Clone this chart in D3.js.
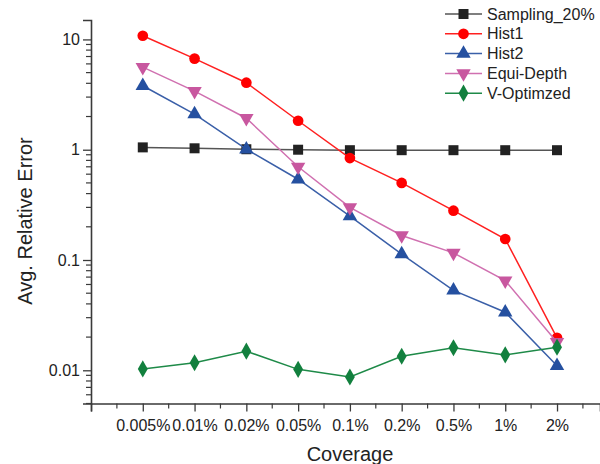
<!DOCTYPE html>
<html>
<head>
<meta charset="utf-8">
<script src="https://cdn.jsdelivr.net/npm/d3@7"></script>
<style>
  body { margin: 0; background: #fff; }
  svg { font-family: "Liberation Sans", Arial, sans-serif; }
</style>
</head>
<body>
<svg id="svg" width="600" height="464"></svg>
<script>
// coverage categories on the x axis
const categories = ['0.005%', '0.01%', '0.02%', '0.05%', '0.1%', '0.2%', '0.5%', '1%', '2%'];

// series values (avg. relative error)
const sampling = [1.05, 1.03, 1.01, 1.0, 0.99, 0.99, 0.99, 0.99, 0.99];
const hist1 = [10.8, 6.7, 4.05, 1.83, 0.84, 0.5, 0.28, 0.155, 0.0197];
const hist2 = [3.8, 2.1, 1.01, 0.54, 0.25, 0.113, 0.053, 0.0336, 0.011];
const equiDepth = [5.6, 3.4, 1.93, 0.7, 0.3, 0.167, 0.116, 0.065, 0.018];
const vOptimized = [0.0103, 0.0117, 0.0149, 0.0102, 0.0087, 0.0134, 0.016, 0.0138, 0.0162];

const yTicks = [0.01, 0.1, 1, 10];
const yTickLabels = ['0.01', '0.1', '1', '10'];

const series = [
  { name: 'Sampling_20%', values: sampling, line: '#555555', fill: '#222222', shape: 'square' },
  { name: 'Hist1', values: hist1, line: '#ff2020', fill: '#ff0000', shape: 'circle' },
  { name: 'Hist2', values: hist2, line: '#3a5fa8', fill: '#2550a0', shape: 'up' },
  { name: 'Equi-Depth', values: equiDepth, line: '#d070b0', fill: '#c8579f', shape: 'down' },
  { name: 'V-Optimzed', values: vOptimized, line: '#1e8a48', fill: '#12803e', shape: 'diamond' }
];

const svg = d3.select('#svg');

// x: category index, with one empty slot on the left
const x = d3.scaleLinear().domain([-1, 8.83]).range([91, 600]);
const y = d3.scaleLog().domain([0.005, 15]).range([403.5, 20]);

const axisColor = '#3a3a3a';

// y axis
const minorY = [];
[0.001, 0.01, 0.1, 1].forEach(function (d) {
  for (let k = 2; k <= 9; k++) {
    const v = d * k;
    if (v >= 0.005 && v <= 15 && yTicks.indexOf(v) < 0) minorY.push(v);
  }
});
const yAxis = svg.append('g')
  .attr('transform', 'translate(' + x(-1) + ',0)')
  .call(d3.axisLeft(y).tickValues(yTicks).tickFormat(function (d, i) { return yTickLabels[i]; })
    .tickSize(8).tickPadding(3));
yAxis.select('.domain').attr('stroke', axisColor).attr('stroke-width', 1.6);
yAxis.selectAll('.tick line').attr('stroke', axisColor).attr('stroke-width', 1.3);
yAxis.selectAll('.tick text').attr('font-size', 16).attr('fill', '#222');
yAxis.selectAll('.minor')
  .data(minorY)
  .enter()
  .append('line')
  .attr('x1', -5).attr('x2', 0)
  .attr('y1', function (d) { return y(d); })
  .attr('y2', function (d) { return y(d); })
  .attr('stroke', axisColor)
  .attr('stroke-width', 1.2);

// x axis
const xAxis = svg.append('g')
  .attr('transform', 'translate(0,' + y(0.005) + ')')
  .call(d3.axisBottom(x).tickValues(d3.range(-1, 9)).tickFormat(function (d) { return d >= 0 ? categories[d] : ''; })
    .tickSize(8).tickPadding(8));
xAxis.select('.domain').attr('stroke', axisColor).attr('stroke-width', 1.6);
xAxis.selectAll('.tick line').attr('stroke', axisColor).attr('stroke-width', 1.3);
xAxis.selectAll('.tick text').attr('font-size', 16).attr('fill', '#222');
xAxis.selectAll('.minor')
  .data(d3.range(-0.5, 8.8, 1))
  .enter()
  .append('line')
  .attr('x1', function (d) { return x(d); })
  .attr('x2', function (d) { return x(d); })
  .attr('y1', 0).attr('y2', 5)
  .attr('stroke', axisColor)
  .attr('stroke-width', 1.2);

// axis titles
svg.append('text')
  .attr('x', 350).attr('y', 461)
  .attr('text-anchor', 'middle')
  .attr('font-size', 20)
  .attr('fill', '#222')
  .text('Coverage');

svg.append('text')
  .attr('transform', 'translate(32,221) rotate(-90)')
  .attr('text-anchor', 'middle')
  .attr('font-size', 20)
  .attr('fill', '#222')
  .text('Avg. Relative Error');

// marker shapes
const shapes = {
  square: d3.symbol().type(d3.symbolSquare).size(100),
  circle: d3.symbol().type(d3.symbolCircle).size(90),
  up: d3.symbol().type(d3.symbolTriangle).size(90),
  down: d3.symbol().type(d3.symbolTriangle).size(90),
  diamond: d3.symbol().type(d3.symbolDiamond).size(85)
};
function marker(sel, s) {
  sel.attr('d', shapes[s.shape]())
    .attr('fill', s.fill)
    .attr('stroke', 'none');
}
function rot(s) { return s.shape === 'down' ? ' rotate(180)' : ''; }

const line = d3.line()
  .x(function (d, i) { return x(i); })
  .y(function (d) { return y(d); });

series.forEach(function (s) {
  const g = svg.append('g');
  g.append('path')
    .attr('d', line(s.values))
    .attr('fill', 'none')
    .attr('stroke', s.line)
    .attr('stroke-width', 1.5);
  g.selectAll('path.pt')
    .data(s.values)
    .enter()
    .append('path')
    .attr('class', 'pt')
    .attr('transform', function (d, i) { return 'translate(' + x(i) + ',' + y(d) + ')' + rot(s); })
    .call(marker, s);
});

// legend
const legend = svg.append('g');
series.forEach(function (s, i) {
  const ly = 14 + i * 19.8;
  legend.append('line')
    .attr('x1', 445).attr('x2', 482)
    .attr('y1', ly).attr('y2', ly)
    .attr('stroke', s.line)
    .attr('stroke-width', 1.5);
  legend.append('path')
    .attr('transform', 'translate(463.5,' + ly + ')' + rot(s))
    .call(marker, s);
  legend.append('text')
    .attr('x', 487).attr('y', ly + 5.5)
    .attr('font-size', 16)
    .attr('fill', '#222')
    .text(s.name);
});
</script>
</body>
</html>
